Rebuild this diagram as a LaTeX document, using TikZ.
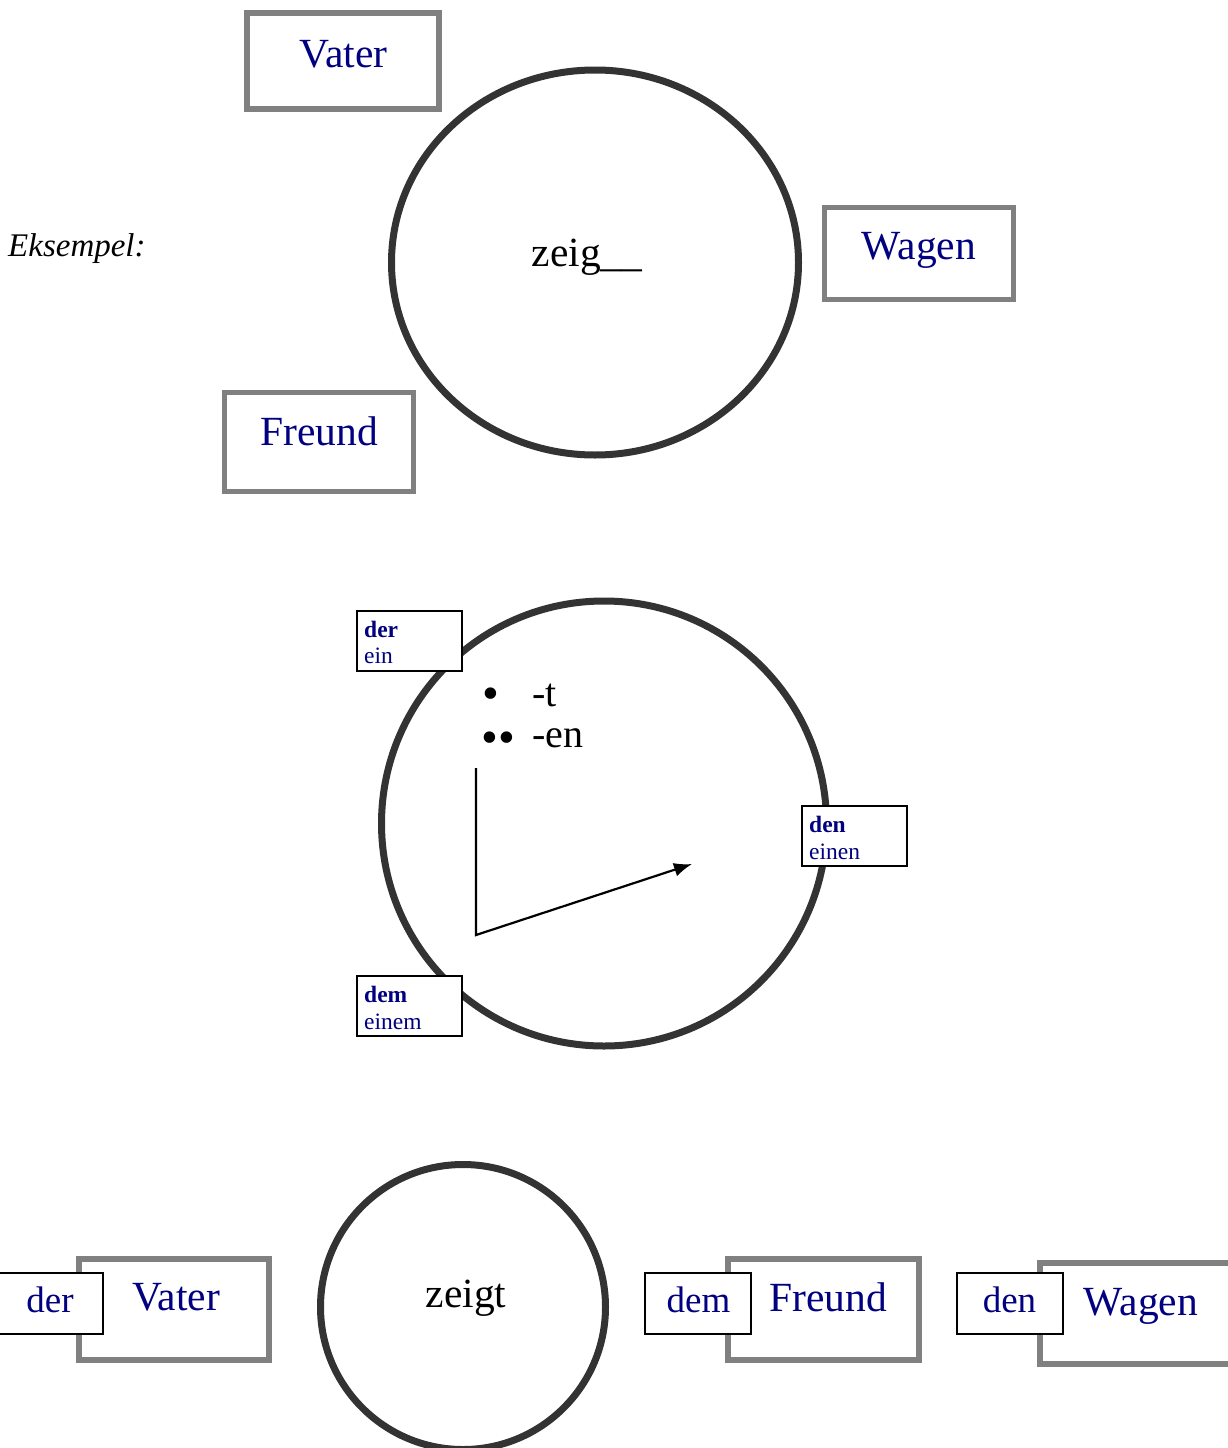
\documentclass[tikz,border=0pt]{standalone}
\usepackage{fontspec}
\setmainfont{Liberation Serif}
\usetikzlibrary{arrows.meta,shapes.geometric}
\definecolor{navy}{HTML}{000080}
\definecolor{boxgray}{HTML}{808080}
\definecolor{ringgray}{HTML}{333333}
\begin{document}
\begin{tikzpicture}[x=1pt,y=-1pt,
  bigbox/.style={draw=boxgray, line width=5.5pt, fill=white, inner sep=0pt, minimum width=190pt, minimum height=95pt},
  smallbox/.style={draw=black, line width=2pt, fill=white, inner sep=0pt, minimum width=105pt, minimum height=60pt},
  ring/.style={draw=ringgray, line width=7pt, inner sep=0pt},
  bigtext/.style={text=navy, font=\fontsize{41.5}{48}\selectfont, anchor=base, inner sep=0pt},
  blacktext/.style={text=black, font=\fontsize{41.5}{48}\selectfont, anchor=base, inner sep=0pt},
  midtext/.style={text=navy, font=\fontsize{37}{42}\selectfont, anchor=base, inner sep=0pt},
  tinybold/.style={text=navy, font=\fontsize{23.5}{27}\selectfont\bfseries, anchor=base west, inner sep=0pt},
  tiny/.style={text=navy, font=\fontsize{23.5}{27}\selectfont, anchor=base west, inner sep=0pt},
  endtext/.style={text=black, font=\fontsize{40}{46}\selectfont, anchor=base west, inner sep=0pt},
  bullettext/.style={text=black, font=\fontsize{48}{50}\selectfont, anchor=base, inner sep=0pt}
]
\useasboundingbox (0,0) rectangle (1227,1448);

% ---------- Section 1 ----------
\node[ring, ellipse, minimum width=407pt, minimum height=385pt] (c1) at (595,262.5) {};
\node[bigbox, minimum width=192pt, minimum height=96pt] (b1vater) at (343,61) {};
\node[bigbox, minimum width=189pt, minimum height=92pt] (b1wagen) at (919,253.5) {};
\node[bigbox, minimum width=189pt, minimum height=99pt] (b1freund) at (319,442) {};
\node[bigtext] (t1vater) at (343.5,67) {Vater};
\node[bigtext] (t1wagen) at (919,259) {Wagen};
\node[bigtext] (t1freund) at (319,445) {Freund};
\node[blacktext] (t1zeig) at (587,266) {zeig\_\_};
\node[text=black, font=\fontsize{33}{38}\selectfont\itshape, anchor=base west, inner sep=0pt] (eks) at (8,256) {Eksempel:};

% ---------- Section 2 ----------
\node[ring, circle, minimum size=445pt] (c2) at (604,823.5) {};
\coordinate (v1) at (476,768);
\coordinate (v2) at (476,935);
\coordinate (tip) at (692,864);
\draw[line width=2.2pt, line join=miter, -{Latex[length=18pt,width=14pt]}] (v1) -- (v2) -- (tip);
\node[smallbox] (s2der) at (409.5,641) {};
\node[smallbox] (s2den) at (854,836) {};
\node[smallbox] (s2dem) at (409.5,1006) {};
\node[tinybold] (t2der) at (364,637) {der};
\node[tiny] (t2ein) at (364,663) {ein};
\node[tinybold] (t2den) at (809,832) {den};
\node[tiny] (t2einen) at (809,859) {einen};
\node[tinybold] (t2dem) at (364,1002) {dem};
\node[tiny] (t2einem) at (364,1029) {einem};
\node[bullettext] (bul1) at (491,709) {•};
\node[bullettext] (bul2) at (498,753) {••};
\node[endtext] (endt) at (532,706) {-t};
\node[endtext] (enden) at (532,747) {-en};

% ---------- Section 3 ----------
\node[ring, circle, minimum size=285pt] (c3) at (463,1307) {};
\node[blacktext] (t3zeigt) at (466,1307) {zeigt};
\node[bigbox, minimum width=190pt, minimum height=101pt] (b3vater) at (174,1309.5) {};
\node[bigbox, minimum width=191pt, minimum height=101pt] (b3freund) at (823.5,1309.5) {};
\node[bigbox, minimum width=191pt, minimum height=101pt] (b3wagen) at (1135.5,1313.5) {};
\node[smallbox, minimum width=107pt, minimum height=61pt] (s3der) at (49.5,1303.5) {};
\node[smallbox, minimum width=106pt, minimum height=61pt] (s3dem) at (698,1303.5) {};
\node[smallbox, minimum width=106pt, minimum height=61pt] (s3den) at (1010,1303.5) {};
\node[midtext] (t3der) at (50,1312) {der};
\node[midtext] (t3dem) at (698.5,1312) {dem};
\node[midtext] (t3den) at (1009.5,1312) {den};
\node[bigtext] (t3vater) at (176,1310) {Vater};
\node[bigtext] (t3freund) at (828,1311) {Freund};
\node[bigtext] (t3wagen) at (1141,1315) {Wagen};
\end{tikzpicture}
\end{document}
